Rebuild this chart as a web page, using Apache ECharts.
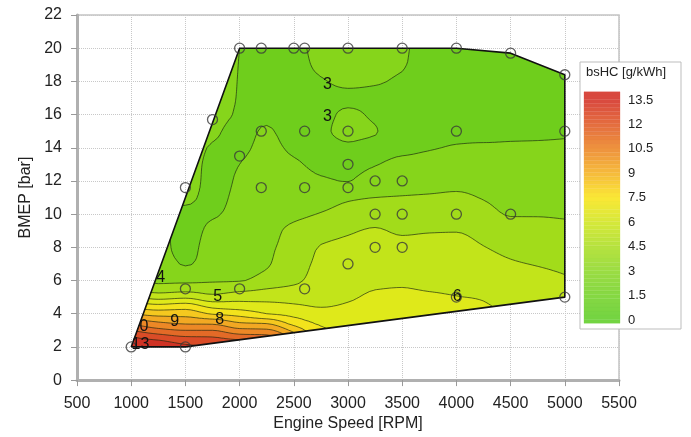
<!DOCTYPE html>
<html><head><meta charset="utf-8">
<script src="https://cdn.jsdelivr.net/npm/echarts@6/dist/echarts.min.js"></script>
<style>html,body{margin:0;padding:0;background:#fff}#c{width:691px;height:437px}</style>
</head><body><div id="c"></div>
<script>
// ---- data ----
const rpmGrid = [1000,1250,1500,1750,2000,2250,2500,2750,3000,3250,3500,3750,4000,4250,4500,4750,5000];
const bmepGrid = [2,2.5,3,3.5,4,4.5,5,5.5,6,7,8,9,10,11,12,13,14,15,16,17,18,19,20];
// bsHC[i][j] = estimated bsHC (g/kWh) at rpmGrid[i], bmepGrid[j]
const bsHC = [
  [13.6,13.2,12.0,10.6,9.0,7.6,6.3,5.0,4.2,3.5,3.3,3.2,3.2,3.2,3.2,3.2,3.2,3.2,3.2,3.2,3.2,3.2,3.2],
  [13.8,12.8,11.3,10.0,8.6,7.2,5.6,4.5,3.8,3.4,3.2,3.15,3.1,3.1,3.2,3.2,3.2,3.2,3.2,3.2,3.2,3.2,3.2],
  [13.3,12.3,11.0,9.7,8.6,7.4,5.8,4.6,3.8,2.95,2.8,2.8,2.9,3.1,3.3,3.3,3.3,3.3,3.3,3.3,3.3,3.3,3.3],
  [13.0,12.2,11.0,9.6,7.9,6.6,5.3,4.5,3.9,3.3,3.25,3.12,2.95,2.85,2.8,2.85,2.95,3.1,3.2,3.2,3.2,3.2,3.2],
  [13.2,11.8,10.3,8.9,7.6,6.4,5.6,4.7,3.95,3.5,3.35,3.25,3.2,3.15,3.08,3.0,2.9,2.85,2.95,2.97,2.98,2.99,3.0],
  [12.5,11.6,10.2,8.7,7.0,6.3,5.6,5.0,4.4,3.92,3.85,3.72,3.55,3.4,3.3,3.25,3.15,3.05,2.9,2.8,2.8,2.85,2.9],
  [10.5,9.8,8.7,7.5,6.7,6.1,5.6,5.2,4.8,4.5,4.3,4.2,3.8,3.6,3.4,3.1,2.9,2.8,2.75,2.7,2.7,2.75,2.8],
  [8.0,7.6,7.2,6.8,6.4,5.9,5.6,5.45,5.35,5.2,5.05,4.6,4.05,3.6,3.1,2.85,2.8,2.9,2.85,2.85,2.95,3.15,3.25],
  [7.3,7.0,6.8,6.6,6.35,6.1,5.85,5.65,5.5,5.35,5.2,4.9,4.4,3.85,2.98,2.85,2.92,3.15,3.08,2.9,3.1,3.25,3.3],
  [7.0,6.9,6.8,6.6,6.45,6.3,6.15,5.98,5.85,5.6,5.3,5.07,4.6,4.0,3.45,2.97,2.85,3.03,2.92,2.85,3.05,3.15,3.2],
  [7.0,6.9,6.8,6.65,6.45,6.3,6.15,6.02,5.9,5.6,5.25,4.9,4.55,4.05,3.6,3.2,2.85,2.7,2.7,2.75,2.9,3.05,3.1],
  [6.9,6.85,6.75,6.6,6.4,6.25,6.1,5.95,5.8,5.6,5.3,4.95,4.55,4.1,3.65,3.3,2.95,2.75,2.65,2.6,2.6,2.65,2.7],
  [6.7,6.65,6.55,6.45,6.35,6.2,6.02,5.9,5.8,5.6,5.3,4.97,4.6,4.15,3.75,3.35,3.05,2.85,2.75,2.7,2.65,2.65,2.7],
  [6.4,6.35,6.3,6.2,6.15,6.05,5.95,5.8,5.65,5.35,5.03,4.7,4.3,3.95,3.65,3.35,3.08,2.85,2.75,2.7,2.68,2.68,2.7],
  [6.1,6.05,6.0,5.95,5.9,5.87,5.75,5.6,5.45,5.1,4.75,4.35,3.95,3.7,3.45,3.25,3.07,2.9,2.8,2.75,2.72,2.7,2.7],
  [5.9,5.88,5.85,5.83,5.8,5.77,5.7,5.5,5.3,4.95,4.6,4.3,3.95,3.7,3.45,3.25,3.07,2.92,2.82,2.78,2.75,2.75,2.75],
  [5.8,5.8,5.78,5.75,5.72,5.68,5.6,5.38,5.12,4.82,4.5,4.2,3.92,3.7,3.45,3.25,3.07,2.95,2.85,2.8,2.78,2.78,2.78]
];
// operating envelope (convex hull of the measured points)
const hullRpm  = [1000,1500,5000,5000,4500,4000,2000];
const hullBmep = [2,2,5,18.4,19.7,20,20];
// measured operating points
const pointRpm  = [1000,1500,1500,1500,1750,2000,2000,2000,2200,2200,2200,2500,2600,2600,2600,2600,3000,3000,3000,3000,3000,3250,3250,3250,3500,3500,3500,3500,4000,4000,4000,4000,4500,4500,5000,5000,5000];
const pointBmep = [2,2,5.5,11.6,15.7,20,13.5,5.5,20,15,11.6,20,20,15,11.6,5.5,20,15,13,11.6,7,12,10,8,20,12,10,8,20,15,10,5,19.7,10,18.4,15,5];
// contour levels and their labels
const levels = [3,4,5,6,7,8,9,10,11,12,13];
const labelRpm  = [2811,2811,1273,1798,4008,1817,1402,1117,1085];
const labelBmep = [17.8,15.85,6.2,5.06,5.06,3.67,3.5,3.2,2.15];
const labelText = ['3','3','4','5','6','8','9','0','13'];
// fill colours: below 3, 3-4, ..., 12-13, above 13
const bandColors = ['#6fce1c','#86d51b','#a2dc1a','#c2e41a','#dfe91a','#f3e31c','#f5c81f','#f2a823','#ec8826','#e36a27','#da4c27','#cf3325'];
// colour bar
const colorbarStops = [[0,'#73d442'],[1.5,'#86d843'],[3,'#9bdc43'],[4.5,'#b6e23f'],[6,'#d6e83a'],[7.5,'#fae836'],[9,'#f6bb3c'],[10.5,'#ee933e'],[12,'#e46d3f'],[13.5,'#d8493f']];
const colorbarRange = [-0.2, 14.0];
const colorbarStep = 0.25;

// ---- monotone cubic interpolation of the read values ----
function slopes(x, y) {
  const n = x.length, h = [], d = [], m = new Array(n);
  for (let i = 0; i < n - 1; i++) { h[i] = x[i+1]-x[i]; d[i] = (y[i+1]-y[i])/h[i]; }
  m[0] = d[0]; m[n-1] = d[n-2];
  for (let i = 1; i < n - 1; i++) {
    if (d[i-1]*d[i] <= 0) m[i] = 0;
    else { const w1 = 2*h[i]+h[i-1], w2 = h[i]+2*h[i-1]; m[i] = (w1+w2)/(w1/d[i-1]+w2/d[i]); }
  }
  return m;
}
function interp(x, y, m, t) {
  let i = 0; while (i < x.length - 2 && t > x[i+1]) i++;
  const h = x[i+1]-x[i], s = (t-x[i])/h, s2 = s*s, s3 = s2*s;
  return (2*s3-3*s2+1)*y[i] + (s3-2*s2+s)*h*m[i] + (-2*s3+3*s2)*y[i+1] + (s3-s2)*h*m[i+1];
}
const FX = [], FY = [];
for (let r = 1000; r <= 5000; r += 50) FX.push(r);
for (let k = 0; k <= 90; k++) FY.push(Math.round((2 + k*0.2)*100)/100);
const rowI = bmepGrid.map((_, j) => {
  const ys = rpmGrid.map((_, i) => bsHC[i][j]); const m = slopes(rpmGrid, ys);
  return FX.map(x => interp(rpmGrid, ys, m, x));
});
const F = FX.map((_, i) => {
  const col = bmepGrid.map((_, j) => rowI[j][i]); const m = slopes(bmepGrid, col);
  return FY.map(y => interp(bmepGrid, col, m, y));
});
function clipPoly(poly, f) {
  const out = [];
  for (let n = 0; n < poly.length; n++) {
    const p = poly[n], q = poly[(n+1) % poly.length], fp = f(p), fq = f(q);
    if (fp >= 0) out.push(p);
    if ((fp >= 0) !== (fq >= 0)) {
      const t = fp/(fp-fq);
      out.push({x: p.x+t*(q.x-p.x), y: p.y+t*(q.y-p.y), v: p.v+t*(q.v-p.v)});
    }
  }
  return out;
}
const hullEdges = hullRpm.map((r, i) => {
  const j = (i+1) % hullRpm.length;
  const ax = r, ay = hullBmep[i], bx = hullRpm[j], by = hullBmep[j];
  return p => (bx-ax)*(p.y-ay) - (by-ay)*(p.x-ax);
});
const tris = [];
for (let i = 0; i < FX.length-1; i++) for (let k = 0; k < FY.length-1; k++) {
  const a = {x:FX[i], y:FY[k], v:F[i][k]}, b = {x:FX[i+1], y:FY[k], v:F[i+1][k]},
        c = {x:FX[i+1], y:FY[k+1], v:F[i+1][k+1]}, d = {x:FX[i], y:FY[k+1], v:F[i][k+1]};
  for (const t of [[a,b,c],[a,c,d]]) {
    let p = t;
    for (const e of hullEdges) { p = clipPoly(p, e); if (p.length < 3) break; }
    if (p.length >= 3) tris.push(p);
  }
}
const layers = [tris].concat(levels.map(L => tris.map(t => clipPoly(t, p => p.v - L)).filter(p => p.length >= 3)));
const contourSegs = levels.map(L => {
  const segs = [];
  for (const t of tris) {
    const pts = [];
    for (let n = 0; n < t.length; n++) {
      const p = t[n], q = t[(n+1) % t.length];
      if ((p.v >= L) !== (q.v >= L)) { const s = (L-p.v)/(q.v-p.v); pts.push([p.x+s*(q.x-p.x), p.y+s*(q.y-p.y)]); }
    }
    if (pts.length === 2) segs.push(pts);
  }
  return segs;
});
function hex(c){return [parseInt(c.slice(1,3),16),parseInt(c.slice(3,5),16),parseInt(c.slice(5,7),16)];}
function cmap(v) {
  const s = colorbarStops;
  if (v <= s[0][0]) return s[0][1];
  if (v >= s[s.length-1][0]) return s[s.length-1][1];
  let i = 0; while (v > s[i+1][0]) i++;
  const t = (v - s[i][0])/(s[i+1][0]-s[i][0]), a = hex(s[i][1]), b = hex(s[i+1][1]);
  return 'rgb(' + a.map((x, k) => Math.round(x + t*(b[k]-x))).join(',') + ')';
}
const cbBands = [];
for (let v = colorbarRange[0]; v < colorbarRange[1] - 1e-9; v += colorbarStep) cbBands.push([v, Math.min(v + colorbarStep, colorbarRange[1])]);

const FONT = '"Liberation Sans", Arial, Helvetica, sans-serif';
const chart = echarts.init(document.getElementById('c'));
chart.setOption({
  animation: false,
  textStyle: {fontFamily: FONT},
  grid: [
    {left: 77, right: 72, top: 15, bottom: 56, show: true, borderColor: '#c4c4c4', borderWidth: 1.5, backgroundColor: 'transparent'},
    {left: 584, width: 36, top: 100, height: 220}
  ],
  xAxis: [
    {type: 'value', min: 500, max: 5500, interval: 500, name: 'Engine Speed [RPM]', nameLocation: 'middle', nameGap: 34,
     nameTextStyle: {fontSize: 16, color: '#222'},
     axisLine: {show: true, onZero: false, lineStyle: {color: '#b0b0b0', width: 3}},
     axisTick: {show: true, length: 6, lineStyle: {color: '#999'}},
     axisLabel: {fontSize: 16, color: '#222', margin: 15, formatter: v => String(v)},
     splitLine: {show: true, lineStyle: {type: 'dotted', color: '#c8c8c8'}}},
    {gridIndex: 1, type: 'value', min: 0, max: 1, show: false}
  ],
  yAxis: [
    {type: 'value', min: 0, max: 22, interval: 2, name: 'BMEP [bar]', nameLocation: 'middle', nameGap: 43, nameRotate: 90,
     nameTextStyle: {fontSize: 16, color: '#222'},
     axisLine: {show: true, onZero: false, lineStyle: {color: '#b0b0b0', width: 3}},
     axisTick: {show: true, length: 6, lineStyle: {color: '#999'}},
     axisLabel: {fontSize: 16, color: '#222', margin: 15},
     splitLine: {show: true, lineStyle: {type: 'dotted', color: '#c8c8c8'}}},
    {gridIndex: 1, type: 'value', min: 0, max: 13.5, interval: 1.5, position: 'right', z: 3,
     axisLine: {show: false}, axisTick: {show: false}, splitLine: {show: false},
     axisLabel: {fontSize: 13, color: '#222', margin: 8}}
  ],
  graphic: [
    {type: 'rect', z: 1, shape: {x: 580, y: 62, width: 101, height: 267}, style: {fill: '#fff', stroke: '#bdbdbd', lineWidth: 1}},
    {type: 'text', z: 6, x: 626, y: 66, style: {text: 'bsHC [g/kWh]', fontSize: 13, fontFamily: FONT, fill: '#222', align: 'center', verticalAlign: 'top'}}
  ],
  series: [
    {type: 'custom', silent: true, z: 2, data: layers.map((_, i) => [1000, 2, i]),
     renderItem: (params, api) => {
       const polys = layers[params.dataIndex]; const parts = [];
       for (const poly of polys) {
         for (let n = 0; n < poly.length; n++) { const c = api.coord([poly[n].x, poly[n].y]); parts.push((n ? 'L ' : 'M ') + c[0].toFixed(2) + ' ' + c[1].toFixed(2)); }
         parts.push('Z');
       }
       return {type: 'path', shape: {pathData: parts.join(' ')}, style: {fill: bandColors[params.dataIndex], stroke: null}};
     }},
    {type: 'custom', silent: true, z: 3, data: levels.map((L, i) => [1000, 2, i]),
     renderItem: (params, api) => {
       const parts = [];
       for (const s of contourSegs[params.dataIndex]) {
         const a = api.coord(s[0]), b = api.coord(s[1]);
         parts.push('M ' + a[0].toFixed(2) + ' ' + a[1].toFixed(2) + ' L ' + b[0].toFixed(2) + ' ' + b[1].toFixed(2));
       }
       return {type: 'path', shape: {pathData: parts.join(' ')}, style: {fill: null, stroke: 'rgba(25,35,15,0.65)', lineWidth: 1}};
     }},
    {type: 'line', silent: true, z: 4, symbol: 'none', data: hullRpm.map((r, i) => [r, hullBmep[i]]).concat([[hullRpm[0], hullBmep[0]]]),
     lineStyle: {color: '#111', width: 1.6}},
    {type: 'scatter', silent: true, z: 5, symbol: 'circle', symbolSize: 10,
     data: pointRpm.map((r, i) => [r, pointBmep[i]]),
     itemStyle: {color: 'rgba(0,0,0,0)', borderColor: '#3a3a3a', borderWidth: 1.3}},
    {type: 'custom', silent: true, z: 6, data: labelRpm.map((r, i) => [r, labelBmep[i], i]),
     renderItem: (params, api) => {
       const c = api.coord([api.value(0), api.value(1)]);
       return {type: 'text', x: c[0], y: c[1], style: {text: labelText[params.dataIndex], fontSize: 16, fontFamily: FONT, fill: '#111', align: 'center', verticalAlign: 'middle'}};
     }},
    {type: 'custom', silent: true, z: 10, xAxisIndex: 1, yAxisIndex: 1, data: cbBands,
     renderItem: (params, api) => {
       const lo = api.value(0), hi = api.value(1);
       const p0 = api.coord([0, hi]), p1 = api.coord([1, lo]);
       const col = cmap((lo + hi) / 2);
       return {type: 'rect', shape: {x: p0[0], y: p0[1], width: p1[0]-p0[0], height: p1[1]-p0[1]}, style: {fill: col, stroke: col, lineWidth: 0.3}};
     }}
  ]
});
</script>
</body></html>
